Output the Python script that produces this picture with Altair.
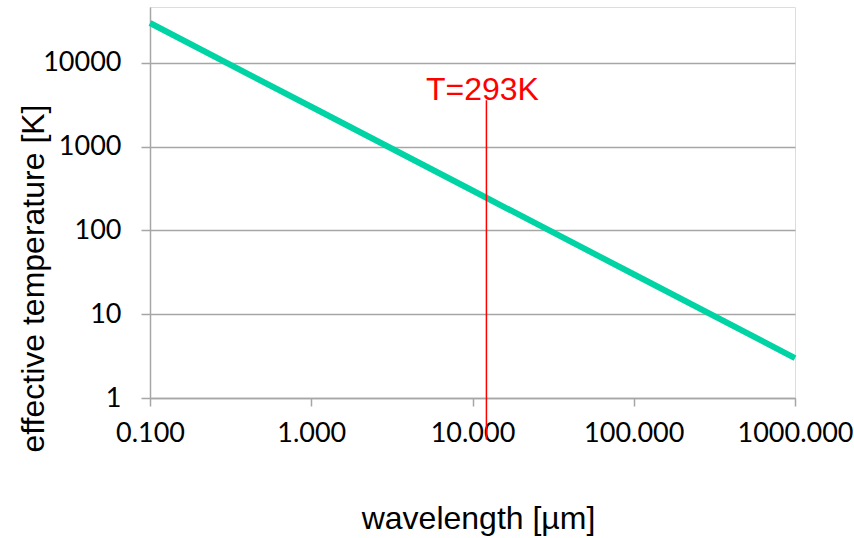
import altair as alt
import pandas as pd

# Data (log-log)
wavelength_um = [0.1, 1.0, 10.0, 100.0, 1000.0]
temperature_K = [30000, 3000, 300, 30, 3.0]

marker_wavelength = [12.2]
marker_low = [0.32]
marker_high = [3600]
marker_label = ["T=293K"]

x_ticks = [0.1, 1, 10, 100, 1000]
y_ticks = [1, 10, 100, 1000, 10000]

line_df = pd.DataFrame({"wl": wavelength_um, "T": temperature_K})
mark_df = pd.DataFrame({"wl": marker_wavelength, "lo": marker_low,
                        "hi": marker_high, "label": marker_label})

xscale = alt.Scale(type="log", domain=[0.1, 1000], nice=False)
yscale = alt.Scale(type="log", domain=[1, 46600], nice=False)

grey = "#A6A6A6"

xaxis = alt.Axis(values=x_ticks, format=".3f", grid=False, domainColor=grey,
                 domainWidth=1.5, tickColor=grey, tickWidth=1.5, tickSize=8,
                 labelFont="Lato", labelFontSize=27, labelColor="black",
                 labelPadding=14, labelFlush=False, labelOverlap=False,
                 title="wavelength [µm]", titleFont="Liberation Sans",
                 titleFontSize=32, titleFontWeight="normal", titleColor="black",
                 titleBaseline="alphabetic", titleY=130, titleX=328)
yaxis = alt.Axis(values=y_ticks, format="d", grid=True, gridColor=grey, gridWidth=1.5,
                 domainColor=grey, domainWidth=1.5, tickColor=grey, tickWidth=1.5,
                 tickSize=9, labelFont="Lato", labelFontSize=27, labelColor="black",
                 labelPadding=20, labelFlush=False, labelOverlap=False,
                 title="effective temperature [K]",
                 titleFont="Liberation Sans", titleFontSize=32, titleFontWeight="normal",
                 titleColor="black", titleAngle=-90, titleBaseline="alphabetic",
                 titleX=-107, titleY=271)

line = alt.Chart(line_df).mark_line(color="#00D3A4", strokeWidth=6, strokeCap="butt").encode(
    x=alt.X("wl:Q", scale=xscale, axis=xaxis),
    y=alt.Y("T:Q", scale=yscale, axis=yaxis),
)

rule = alt.Chart(mark_df).mark_rule(color="#FF0000", strokeWidth=1.5, clip=False).encode(
    x=alt.X("wl:Q", scale=xscale),
    y=alt.Y("lo:Q", scale=yscale),
    y2="hi:Q",
)

text = alt.Chart(mark_df).mark_text(color="#FF0000", font="Liberation Sans", fontSize=32,
                                     align="center", baseline="alphabetic", dx=-4, dy=0,
                                     clip=False).encode(
    x=alt.X("wl:Q", scale=xscale),
    y=alt.Y("hi:Q", scale=yscale),
    text="label:N",
)

chart = alt.layer(line, rule, text).properties(
    width=645, height=391,
    padding={"left": 150, "top": 7, "right": 59, "bottom": 140},
    autosize=alt.AutoSizeParams(type="none"),
).configure_view(stroke=None).configure(background="white")

chart.save("out.html", embed_options={"renderer": "svg", "actions": False})
